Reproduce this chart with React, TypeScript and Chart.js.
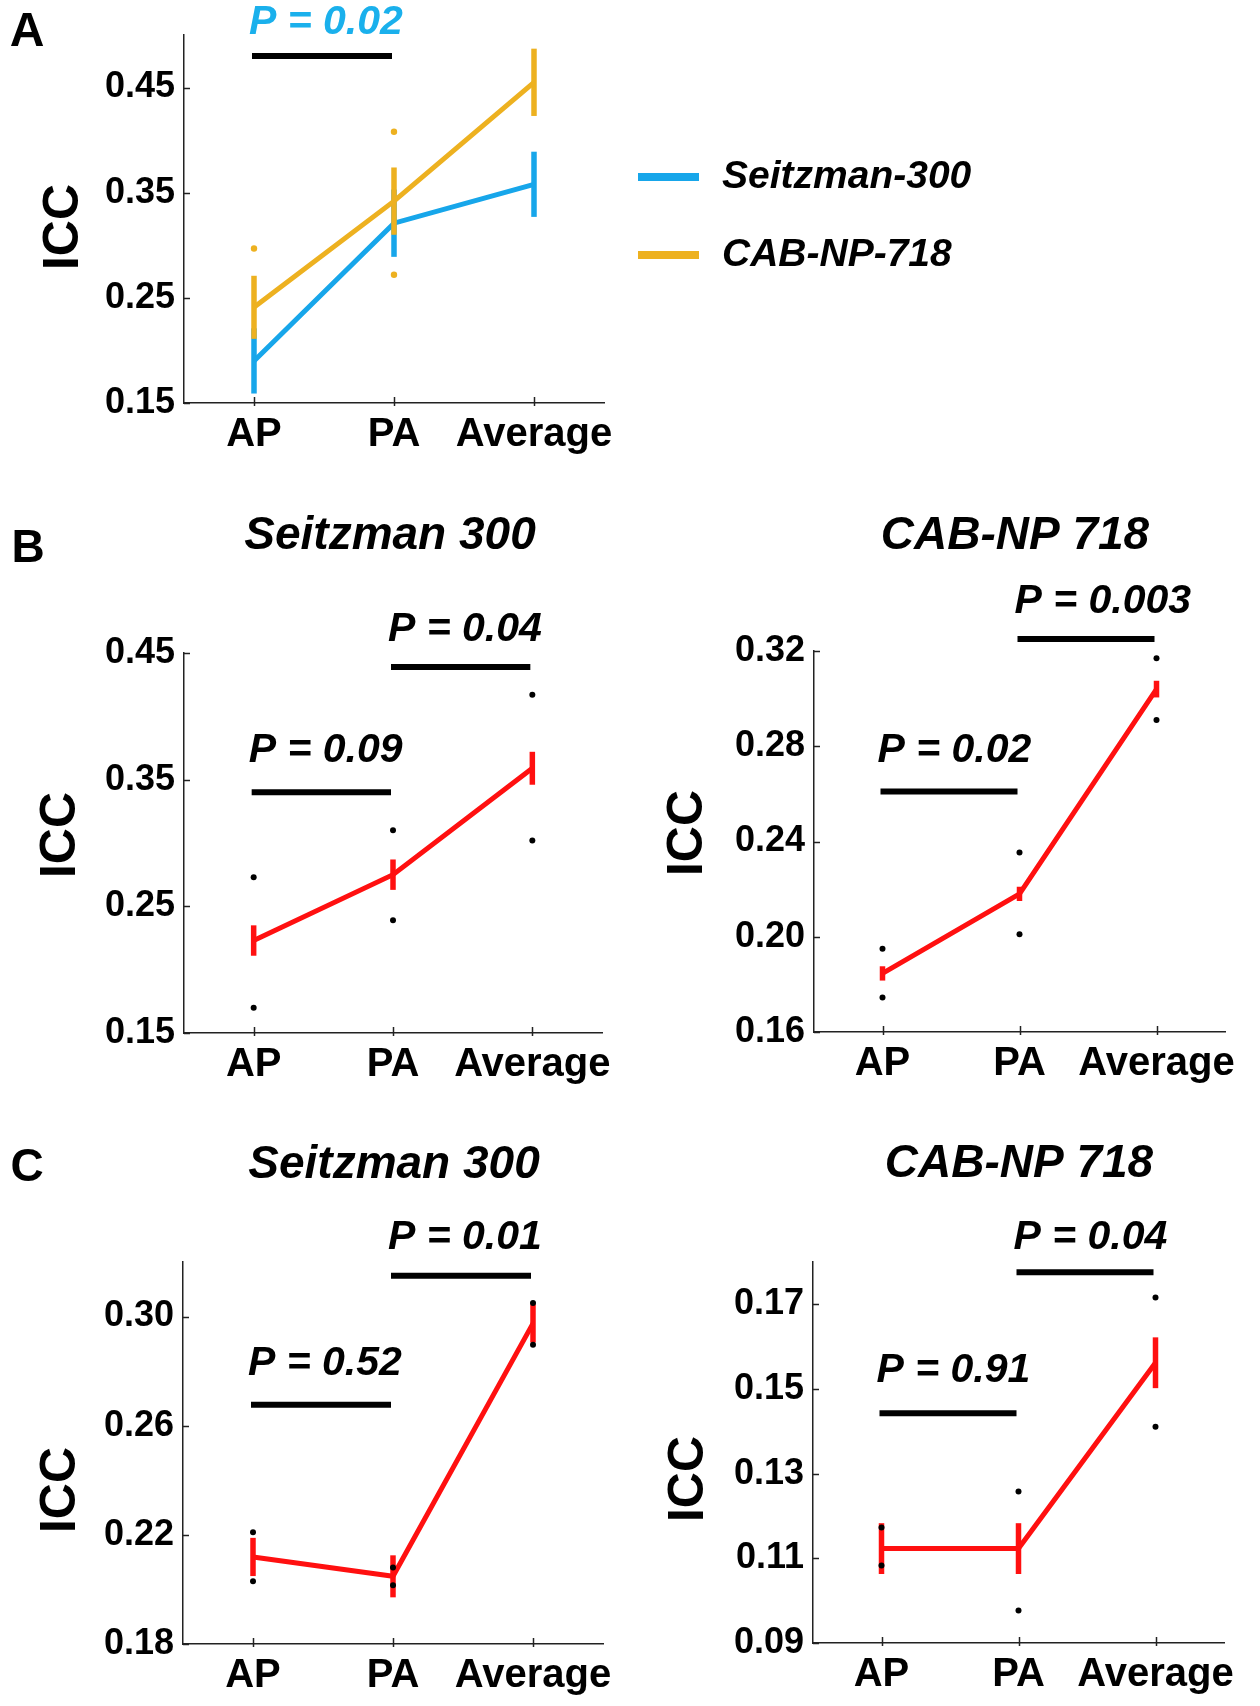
import React, { useEffect, useRef } from 'react';
import { Chart, registerables } from 'chart.js';

Chart.register(...registerables);

const FONT = '"Liberation Sans", Arial, Helvetica, sans-serif';

// ---------- data ----------
const categories = ['AP', 'PA', 'Average'];

// Panel A
const seriesNamesA = ['Seitzman-300', 'CAB-NP-718'];
const aSeitzmanMean = [0.19, 0.321, 0.358];
const aSeitzmanErr = [0.031, 0.032, 0.031];
const aCabMean = [0.241, 0.342, 0.455];
const aCabErr = [0.03, 0.032, 0.032];
const aCabDotHigh = [0.297, 0.408, null];
const aCabDotLow = [null, 0.272, null];
const aTicks = [0.15, 0.25, 0.35, 0.45];
const aSigFrom = [0];
const aSigTo = [1];
const aSigY = [0.48];
const aSigText = ['P = 0.02'];

// Panel B, Seitzman 300
const bsMean = [0.223, 0.275, 0.359];
const bsErr = [0.012, 0.012, 0.013];
const bsDotHigh = [0.273, 0.31, 0.417];
const bsDotLow = [0.17, 0.239, 0.302];
const bsTicks = [0.15, 0.25, 0.35, 0.45];
const bsSigFrom = [0, 1];
const bsSigTo = [1, 2];
const bsSigY = [0.34, 0.439];
const bsSigText = ['P = 0.09', 'P = 0.04'];

// Panel B, CAB-NP 718
const bcMean = [0.1846, 0.218, 0.304];
const bcErr = [0.003, 0.003, 0.0035];
const bcDotHigh = [0.195, 0.2354, 0.317];
const bcDotLow = [0.1745, 0.201, 0.291];
const bcTicks = [0.16, 0.2, 0.24, 0.28, 0.32];
const bcSigFrom = [0, 1];
const bcSigTo = [1, 2];
const bcSigY = [0.261, 0.325];
const bcSigText = ['P = 0.02', 'P = 0.003'];

// Panel C, Seitzman 300
const csMean = [0.2119, 0.2048, 0.2975];
const csErr = [0.007, 0.0077, 0.007];
const csDotHigh = [0.221, 0.208, 0.305];
const csDotLow = [0.203, 0.2015, 0.2897];
const csTicks = [0.18, 0.22, 0.26, 0.3];
const csSigFrom = [0, 1];
const csSigTo = [1, 2];
const csSigY = [0.2677, 0.315];
const csSigText = ['P = 0.52', 'P = 0.01'];

// Panel C, CAB-NP 718
const ccMean = [0.1123, 0.1123, 0.1562];
const ccErr = [0.006, 0.006, 0.006];
const ccDotHigh = [0.1173, 0.1258, 0.1716];
const ccDotLow = [0.1083, 0.0977, 0.1411];
const ccTicks = [0.09, 0.11, 0.13, 0.15, 0.17];
const ccSigFrom = [0, 1];
const ccSigTo = [1, 2];
const ccSigY = [0.1443, 0.1776];
const ccSigText = ['P = 0.91', 'P = 0.04'];

// ---------- styling ----------
const BLUE = '#17a6ea';
const ORANGE = '#edb120';
const RED = '#ff1010';
const AXIS = '#222222';

type Series = {
  label: string;
  mean: number[];
  err: number[];
  color: string;
  dotHigh?: (number | null)[];
  dotLow?: (number | null)[];
  dotColor?: string;
  dotRadius?: number;
  order: number;
};

type Panel = {
  canvas: [number, number, number, number];
  area: [number, number, number, number];
  yMin: number;
  yMax: number;
  yTicks: number[];
  series: Series[];
  sigFrom: number[];
  sigTo: number[];
  sigY: number[];
  sigText: string[];
  sigColor: string;
  sigTextGap: number[];
  title?: string;
  titlePos?: [number, number];
  letter?: string;
  letterPos?: [number, number];
  letterSize?: number;
  iccPos: [number, number];
  legend?: boolean;
};

const Y_W = 110;
const X_H = 60;

const panels: Panel[] = [
  {
    canvas: [0, 0, 1260, 470],
    area: [184, 35, 604, 403],
    yMin: 0.15,
    yMax: 0.5,
    yTicks: aTicks,
    series: [
      { label: seriesNamesA[0], mean: aSeitzmanMean, err: aSeitzmanErr, color: BLUE, order: 3 },
      {
        label: seriesNamesA[1], mean: aCabMean, err: aCabErr, color: ORANGE, order: 2,
        dotHigh: aCabDotHigh, dotLow: aCabDotLow, dotColor: ORANGE, dotRadius: 3.2,
      },
    ],
    sigFrom: aSigFrom, sigTo: aSigTo, sigY: aSigY, sigText: aSigText, sigColor: '#1ab0ec', sigTextGap: [33],
    letter: 'A', letterPos: [27, 33], letterSize: 48,
    iccPos: [62, 227],
    legend: true,
  },
  {
    canvas: [0, 470, 640, 640],
    area: [184, 653, 602, 1033],
    yMin: 0.15, yMax: 0.45, yTicks: bsTicks,
    series: [{ label: 'Seitzman 300', mean: bsMean, err: bsErr, color: RED, order: 2, dotHigh: bsDotHigh, dotLow: bsDotLow, dotColor: '#000', dotRadius: 3 }],
    sigFrom: bsSigFrom, sigTo: bsSigTo, sigY: bsSigY, sigText: bsSigText, sigColor: '#000', sigTextGap: [42, 37],
    title: 'Seitzman 300', titlePos: [390, 536],
    letter: 'B', letterPos: [28, 549], letterSize: 46,
    iccPos: [59, 835],
  },
  {
    canvas: [640, 470, 620, 640],
    area: [814, 651, 1225, 1032],
    yMin: 0.16, yMax: 0.32, yTicks: bcTicks,
    series: [{ label: 'CAB-NP 718', mean: bcMean, err: bcErr, color: RED, order: 2, dotHigh: bcDotHigh, dotLow: bcDotLow, dotColor: '#000', dotRadius: 3 }],
    sigFrom: bcSigFrom, sigTo: bcSigTo, sigY: bcSigY, sigText: bcSigText, sigColor: '#000', sigTextGap: [41, 37],
    title: 'CAB-NP 718', titlePos: [1015, 536],
    iccPos: [686, 833],
  },
  {
    canvas: [0, 1110, 640, 596],
    area: [183, 1262, 603, 1644],
    yMin: 0.18, yMax: 0.32, yTicks: csTicks,
    series: [{ label: 'Seitzman 300', mean: csMean, err: csErr, color: RED, order: 2, dotHigh: csDotHigh, dotLow: csDotLow, dotColor: '#000', dotRadius: 3 }],
    sigFrom: csSigFrom, sigTo: csSigTo, sigY: csSigY, sigText: csSigText, sigColor: '#000', sigTextGap: [41, 38],
    title: 'Seitzman 300', titlePos: [394, 1165],
    letter: 'C', letterPos: [27, 1168], letterSize: 46,
    iccPos: [59, 1490],
  },
  {
    canvas: [640, 1110, 620, 596],
    area: [813, 1262, 1224, 1643],
    yMin: 0.09, yMax: 0.18, yTicks: ccTicks,
    series: [{ label: 'CAB-NP 718', mean: ccMean, err: ccErr, color: RED, order: 2, dotHigh: ccDotHigh, dotLow: ccDotLow, dotColor: '#000', dotRadius: 3 }],
    sigFrom: ccSigFrom, sigTo: ccSigTo, sigY: ccSigY, sigText: ccSigText, sigColor: '#000', sigTextGap: [42, 34],
    title: 'CAB-NP 718', titlePos: [1019, 1164],
    iccPos: [687, 1479],
  },
];

function buildConfig(p: Panel): any {
  const [cx, cy, cw, ch] = p.canvas;
  const [l, t, r, b] = p.area;
  const datasets: any[] = [];
  p.series.forEach((s) => {
    datasets.push({
      type: 'line',
      label: s.label,
      data: s.mean,
      errors: s.err,
      borderColor: s.color,
      backgroundColor: s.color,
      borderWidth: 5,
      pointRadius: 0,
      tension: 0,
      order: s.order,
    });
    if (s.dotHigh) {
      [s.dotHigh, s.dotLow].forEach((d) => {
        datasets.push({
          type: 'line',
          label: s.label + ' range',
          data: d,
          showLine: false,
          pointRadius: s.dotRadius,
          pointBorderWidth: 0,
          pointBackgroundColor: s.dotColor,
          borderColor: s.dotColor,
          order: 0,
        });
      });
    }
  });

  const toLocal = (pt: [number, number]) => [pt[0] - cx, pt[1] - cy];

  const annotate = {
    id: 'annotate',
    beforeDatasetDraw(chart: any, args: any) {
      const ds = chart.data.datasets[args.index];
      if (!ds.errors) return;
      const ctx = chart.ctx;
      const xs = chart.scales.x;
      const ys = chart.scales.y;
      ctx.save();
      ctx.strokeStyle = ds.borderColor;
      ctx.lineWidth = 5.5;
      ctx.lineCap = 'butt';
      ds.data.forEach((m: number, i: number) => {
        const px = xs.getPixelForValue(i);
        ctx.beginPath();
        ctx.moveTo(px, ys.getPixelForValue(m - ds.errors[i]));
        ctx.lineTo(px, ys.getPixelForValue(m + ds.errors[i]));
        ctx.stroke();
      });
      ctx.restore();
    },
    afterDraw(chart: any) {
      const ctx = chart.ctx;
      const xs = chart.scales.x;
      const ys = chart.scales.y;
      const area = chart.chartArea;
      ctx.save();
      // inward tick marks
      ctx.strokeStyle = AXIS;
      ctx.lineWidth = 1.5;
      p.yTicks.forEach((v) => {
        const py = Math.round(ys.getPixelForValue(v)) + 0.5;
        ctx.beginPath();
        ctx.moveTo(area.left, py);
        ctx.lineTo(area.left + 6, py);
        ctx.stroke();
      });
      categories.forEach((_, i) => {
        const px = Math.round(xs.getPixelForValue(i)) + 0.5;
        ctx.beginPath();
        ctx.moveTo(px, area.bottom + 3);
        ctx.lineTo(px, area.bottom - 6);
        ctx.stroke();
      });
      // significance bars and p-values
      p.sigY.forEach((v, k) => {
        const x0 = xs.getPixelForValue(p.sigFrom[k]) - 2;
        const x1 = xs.getPixelForValue(p.sigTo[k]) - 2;
        const py = ys.getPixelForValue(v);
        ctx.strokeStyle = '#000';
        ctx.lineWidth = 6;
        ctx.lineCap = 'butt';
        ctx.beginPath();
        ctx.moveTo(x0, py);
        ctx.lineTo(x1, py);
        ctx.stroke();
        ctx.fillStyle = p.sigColor;
        ctx.font = `italic bold 41px ${FONT}`;
        ctx.textAlign = 'left';
        ctx.textBaseline = 'middle';
        ctx.fillText(p.sigText[k], x0 - 3, py - p.sigTextGap[k]);
      });
      // title
      ctx.fillStyle = '#000';
      if (p.title && p.titlePos) {
        const [tx, ty] = toLocal(p.titlePos);
        ctx.font = `italic bold 46px ${FONT}`;
        ctx.textAlign = 'center';
        ctx.textBaseline = 'middle';
        ctx.fillText(p.title, tx, ty);
      }
      // panel letter
      if (p.letter && p.letterPos) {
        const [lx, ly] = toLocal(p.letterPos);
        ctx.font = `bold ${p.letterSize}px ${FONT}`;
        ctx.textAlign = 'center';
        ctx.textBaseline = 'middle';
        ctx.fillText(p.letter, lx, ly);
      }
      // ICC label
      {
        const [ix, iy] = toLocal(p.iccPos);
        ctx.save();
        ctx.translate(ix, iy);
        ctx.rotate(-Math.PI / 2);
        ctx.font = `bold 50px ${FONT}`;
        ctx.textAlign = 'center';
        ctx.textBaseline = 'middle';
        ctx.fillText('ICC', 0, 2);
        ctx.restore();
      }
      // legend
      if (p.legend) {
        const rows = chart.data.datasets.filter((d: any) => d.errors);
        const ys0 = [177, 255];
        rows.forEach((d: any, k: number) => {
          const [gx, gy] = toLocal([638, ys0[k]]);
          ctx.strokeStyle = d.borderColor;
          ctx.lineWidth = 8;
          ctx.beginPath();
          ctx.moveTo(gx, gy);
          ctx.lineTo(gx + 61, gy);
          ctx.stroke();
          ctx.fillStyle = '#000';
          ctx.font = `italic bold 39px ${FONT}`;
          ctx.textAlign = 'left';
          ctx.textBaseline = 'middle';
          ctx.fillText(d.label, gx + 84, gy);
        });
      }
      ctx.restore();
    },
  };

  return {
    type: 'line',
    data: { labels: categories, datasets },
    plugins: [annotate],
    options: {
      animation: false,
      responsive: false,
      devicePixelRatio: 1,
      events: [],
      layout: {
        padding: {
          left: l - cx - Y_W,
          top: t - cy,
          right: cx + cw - r,
          bottom: cy + ch - b - X_H,
        },
      },
      plugins: {
        legend: { display: false },
        tooltip: { enabled: false },
        title: { display: false },
      },
      scales: {
        x: {
          type: 'category',
          offset: true,
          grid: { display: false, drawTicks: false },
          border: { display: true, color: AXIS, width: 1.5 },
          ticks: {
            padding: 8,
            color: '#000',
            maxRotation: 0,
            autoSkip: false,
            font: { family: FONT, size: 40, weight: 'bold' },
          },
          afterFit: (s: any) => {
            s.height = X_H;
          },
        },
        y: {
          type: 'linear',
          min: p.yMin,
          max: p.yMax,
          grid: { display: false, drawTicks: false },
          border: { display: true, color: AXIS, width: 1.5 },
          afterBuildTicks: (s: any) => {
            s.ticks = p.yTicks.map((v) => ({ value: v }));
          },
          ticks: {
            padding: 9,
            color: '#000',
            font: { family: FONT, size: 36, weight: 'bold' },
            callback: (v: any) => Number(v).toFixed(2),
          },
          afterFit: (s: any) => {
            s.width = Y_W;
          },
        },
      },
    },
  };
}

function PanelChart({ p }: { p: Panel }) {
  const ref = useRef<HTMLCanvasElement | null>(null);
  useEffect(() => {
    if (!ref.current) return;
    const chart = new Chart(ref.current, buildConfig(p));
    return () => chart.destroy();
  }, [p]);
  const [x, y, w, h] = p.canvas;
  return (
    <canvas
      ref={ref}
      width={w}
      height={h}
      style={{ position: 'absolute', left: x, top: y, width: w, height: h }}
    />
  );
}

export default function App() {
  return (
    <div
      style={{
        position: 'absolute',
        left: 0,
        top: 0,
        width: 1260,
        height: 1706,
        background: '#ffffff',
        overflow: 'hidden',
      }}
    >
      {panels.map((p, i) => (
        <PanelChart key={i} p={p} />
      ))}
    </div>
  );
}
